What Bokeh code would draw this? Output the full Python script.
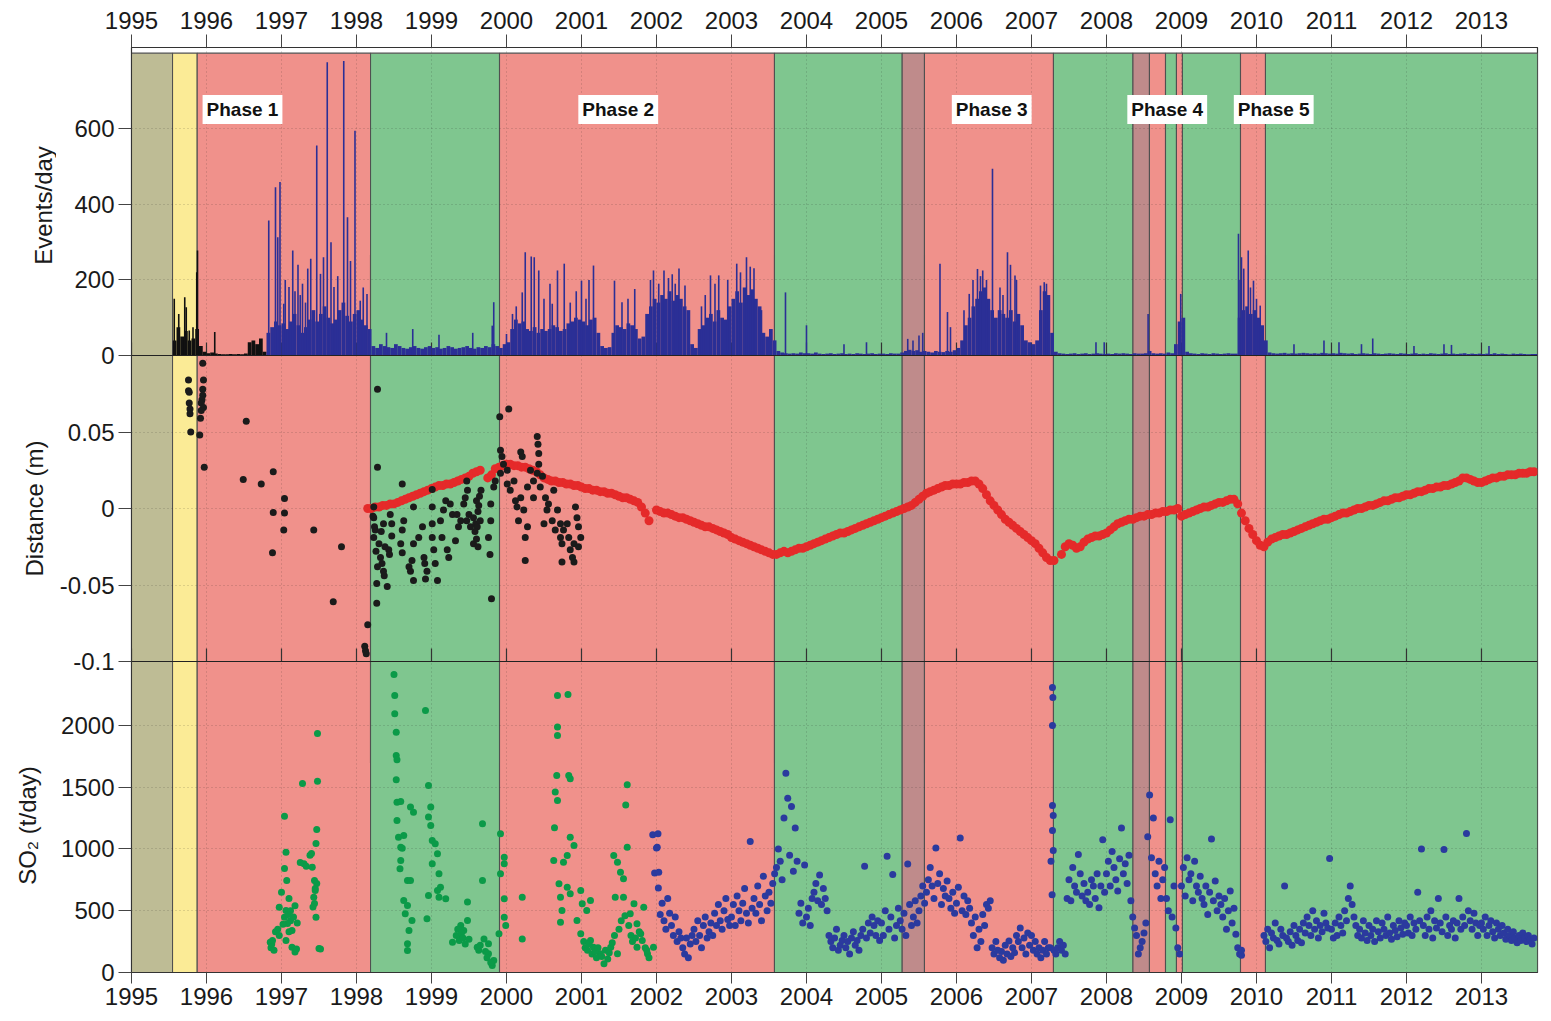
import numpy as np
from math import pi
from bokeh.plotting import figure
from bokeh.layouts import row
from bokeh.models import Range1d, LinearAxis, FixedTicker, Label, Span
from bokeh.core.properties import value
from bokeh.embed import file_html
from bokeh.resources import INLINE

nan = float("nan")

# ---------------- data ----------------
tick_years = list(range(1995, 2014))

phase_start = [1995.000, 1995.547, 1995.876, 1998.187, 1999.907, 2003.573, 2005.276, 2005.573,
               2007.293, 2008.353, 2008.573, 2008.787, 2008.933, 2009.013, 2009.787, 2010.120]
phase_end = [1995.547, 1995.876, 1998.187, 1999.907, 2003.573, 2005.276, 2005.573, 2007.293,
             2008.353, 2008.573, 2008.787, 2008.933, 2009.013, 2009.787, 2010.120, 2013.747]
phase_kind = ["pre", "unrest", "active", "pause", "active", "pause", "transition", "active",
              "pause", "transition", "active", "pause", "active", "pause", "active", "pause"]

phase_names = ["Phase 1", "Phase 2", "Phase 3", "Phase 4", "Phase 5"]
phase_label_year = [1996.48, 2001.49, 2006.47, 2008.81, 2010.23]
phase_label_level = 651

panel_titles = ["Events/day", "Distance (m)", "SO\u2082 (t/day)"]

# seismic events per day (0.05-year bins starting 1995.55) and isolated spikes
events_start = 1995.55
events_step = 0.05
events_body = [
    40, 75, 50, 65, 40, 45, 70, 25, 10,
    6, 8, 5, 4, 3, 3, 4, 3, 4, 3, 5, 35, 40, 30, 45, 10, 60, 75, 90, 80,
    85, 70, 90, 110, 80, 60, 75, 95, 120, 90, 110, 130, 100, 85, 95, 120, 140, 105, 90, 110,
    120, 95, 80, 70, 25, 20, 30, 25, 22, 20, 30, 25, 20, 18, 22, 25, 20, 18, 22, 25,
    20, 22, 18, 20, 25, 22, 18, 20, 22, 25, 20, 18, 22, 20, 25, 22, 30, 25, 20, 30,
    35, 70, 95, 85, 90, 70, 65, 75, 60, 70, 65, 70, 80, 75, 65, 70, 85, 90, 100, 95,
    90, 80, 95, 100, 60, 25, 20, 22, 60, 80, 75, 70, 85, 80, 70, 45, 50, 110, 130, 150,
    140, 160, 150, 170, 145, 160, 150, 130, 120, 30, 20, 70, 80, 100, 110, 90, 120, 100, 95, 130,
    150, 170, 140, 180, 160, 175, 150, 130, 60, 50, 70, 40, 12, 8, 6, 5, 6, 5, 8, 6,
    6, 5, 8, 5, 4, 5, 6, 4, 5, 6, 4, 5, 4, 6, 5, 4, 5, 6, 4, 5,
    5, 4, 6, 5, 5, 8, 12, 15, 12, 14, 10, 12, 10, 8, 12, 10, 9, 12, 10, 14,
    20, 40, 80, 100, 130, 150, 170, 180, 150, 120, 100, 120, 110, 100, 120, 90, 110, 80, 40, 35,
    30, 40, 120, 170, 160, 60, 10, 6, 5, 4, 5, 6, 4, 5, 6, 4, 5, 6, 5, 4,
    5, 4, 6, 5, 6, 5, 4, 6, 5, 5, 6, 12, 6, 5, 6, 5, 8, 6, 30, 90,
    100, 10, 6, 5, 4, 6, 5, 4, 6, 5, 4, 5, 6, 5, 5, 100, 120, 130, 110, 120,
    100, 80, 40, 8, 6, 5, 6, 7, 5, 6, 5, 6, 7, 6, 5, 6, 5, 7, 6, 5,
    6, 5, 7, 6, 5, 6, 4, 5, 6, 5, 4, 6, 5, 4, 5, 6, 5, 4, 6, 5,
    4, 5, 6, 4, 5, 4, 6, 5, 4, 5, 6, 4, 5, 4, 5, 6, 4, 5, 4, 5,
    4, 5, 4, 6, 4, 5, 4, 3, 5, 4, 5, 4, 3, 4, 4,
]
events_black_until = 1996.79
events_spikes = [
    (1995.57, 150), (1995.63, 110), (1995.71, 154), (1995.73, 128), (1995.77, 66), (1995.82, 75),
    (1995.87, 220), (1995.88, 278), (1996.11, 62),
    (1996.83, 357), (1996.92, 445), (1996.95, 313), (1996.98, 459), (1997.03, 137), (1997.05, 200),
    (1997.10, 181), (1997.15, 278), (1997.18, 170), (1997.22, 240), (1997.25, 160), (1997.28, 190),
    (1997.32, 140), (1997.35, 230), (1997.39, 256), (1997.47, 556), (1997.52, 216), (1997.56, 260),
    (1997.61, 776), (1997.66, 300), (1997.70, 181), (1997.75, 210), (1997.83, 779), (1997.88, 366),
    (1997.92, 250), (1997.98, 595), (1998.05, 145), (1998.09, 180), (1998.14, 163),
    (1998.40, 60), (1998.75, 70), (1999.10, 55), (1999.55, 60), (1999.81, 79), (1999.83, 141), (2000.00, 57),
    (2000.08, 110), (2000.13, 130), (2000.21, 167), (2000.25, 273), (2000.33, 262), (2000.37, 260),
    (2000.43, 225), (2000.50, 150), (2000.58, 190), (2000.61, 137), (2000.68, 225), (2000.77, 243),
    (2000.85, 140), (2000.93, 170), (2001.00, 198), (2001.06, 150), (2001.10, 200), (2001.16, 238),
    (2001.44, 198), (2001.54, 141), (2001.62, 150), (2001.71, 176), (2001.92, 200), (2001.96, 225),
    (2002.03, 190), (2002.10, 225), (2002.16, 205), (2002.21, 215), (2002.25, 190), (2002.30, 230),
    (2002.38, 185), (2002.60, 130), (2002.65, 160), (2002.72, 212), (2002.78, 190), (2002.83, 212),
    (2002.95, 200), (2003.07, 243), (2003.12, 220), (2003.20, 260), (2003.25, 235), (2003.30, 231),
    (2003.40, 120), (2003.72, 167), (2004.00, 80), (2004.50, 30), (2004.80, 35),
    (2005.35, 44), (2005.42, 40), (2005.50, 53), (2005.55, 60), (2005.78, 243), (2005.88, 115),
    (2005.92, 75), (2006.10, 120), (2006.17, 163), (2006.22, 200), (2006.28, 229), (2006.32, 210),
    (2006.35, 225), (2006.40, 200), (2006.48, 494), (2006.58, 180), (2006.62, 160), (2006.68, 273),
    (2006.72, 240), (2006.78, 212), (2006.80, 200), (2007.12, 185), (2007.17, 194), (2007.20, 190),
    (2007.86, 35), (2007.97, 35), (2008.555, 110), (2008.99, 163),
    (2009.76, 322), (2009.78, 200), (2009.80, 260), (2009.83, 230), (2009.89, 278), (2009.92, 180),
    (2009.96, 198), (2010.00, 150), (2010.05, 132),
    (2010.50, 30), (2010.90, 40), (2011.10, 35), (2011.40, 30), (2011.55, 45), (2012.10, 25),
    (2012.50, 30), (2012.60, 28), (2013.10, 25),
]

# distance (m): continuous series (0.05-year steps from 1998.15) and early survey points
dist_red_start = 1998.15
dist_red_step = 0.05
dist_red = [
    0.000, 0.000, 0.001, 0.001, 0.002, 0.002, 0.003, 0.003, 0.004, 0.005, 0.006, 0.007, 0.008, 0.009, 0.010, 0.011, 0.012,
    0.013, 0.014, 0.015, 0.015, 0.016, 0.016, 0.017, 0.018, 0.019, 0.020, 0.021, 0.023, 0.024, 0.025, nan, 0.020, 0.022, 0.026, 0.027, 0.028,
    0.029, 0.029, 0.028, 0.028, 0.027, 0.027, 0.026, 0.025, 0.024, 0.022, 0.020, 0.019, 0.018, 0.018, 0.017, 0.017, 0.016, 0.016, 0.015, 0.015,
    0.014, 0.013, 0.013, 0.012, 0.012, 0.011, 0.011, 0.010, 0.010, 0.009, 0.008, 0.007, 0.007, 0.006, 0.005, 0.004, 0.001, -0.003, -0.008, nan,
    -0.001, -0.002, -0.003, -0.003, -0.004, -0.005, -0.006, -0.006, -0.007, -0.008, -0.009, -0.010, -0.011, -0.012, -0.012, -0.013, -0.014, -0.015, -0.016, -0.017,
    -0.019, -0.020, -0.021, -0.022, -0.023, -0.024, -0.025, -0.026, -0.027, -0.028, -0.029, -0.030, -0.030, -0.029, -0.028, -0.029, -0.028, -0.027, -0.026, -0.026,
    -0.025, -0.024, -0.023, -0.022, -0.021, -0.020, -0.019, -0.018, -0.017, -0.016, -0.016, -0.015, -0.014, -0.013, -0.012, -0.011, -0.010, -0.009, -0.008, -0.007,
    -0.006, -0.005, -0.004, -0.003, -0.002, -0.001, 0.000, 0.001, 0.002, 0.004, 0.006, 0.008, 0.010, 0.011, 0.012, 0.013, 0.014, 0.015, 0.015, 0.016,
    0.016, 0.016, 0.017, 0.017, 0.018, 0.018, 0.016, 0.013, 0.009, 0.005, 0.002, -0.001, -0.004, -0.007, -0.009, -0.011, -0.013, -0.015, -0.017, -0.019,
    -0.021, -0.023, -0.026, -0.029, -0.032, -0.034, -0.034, nan, -0.030, -0.025, -0.023, -0.024, -0.026, -0.025, -0.022, -0.020, -0.019, -0.018, -0.018, -0.017,
    -0.016, -0.014, -0.012, -0.010, -0.009, -0.008, -0.007, -0.007, -0.006, -0.005, -0.005, -0.004, -0.004, -0.003, -0.003, -0.002, -0.002, -0.001, -0.001, 0.000,
    -0.005, -0.004, -0.003, -0.002, -0.001, 0.000, 0.001, 0.001, 0.002, 0.003, 0.004, 0.004, 0.005, 0.006, 0.006, 0.003, -0.003, -0.008, -0.013, -0.017,
    -0.021, -0.024, -0.025, -0.022, -0.020, -0.019, -0.018, -0.017, -0.017, -0.016, -0.015, -0.014, -0.013, -0.012, -0.011, -0.010, -0.009, -0.008, -0.007, -0.007,
    -0.006, -0.005, -0.004, -0.003, -0.003, -0.002, -0.001, 0.000, 0.000, 0.001, 0.002, 0.002, 0.003, 0.004, 0.005, 0.005, 0.006, 0.007, 0.007, 0.008,
    0.009, 0.009, 0.010, 0.011, 0.011, 0.012, 0.013, 0.013, 0.014, 0.014, 0.015, 0.015, 0.016, 0.017, 0.018, 0.020, 0.020, 0.019, 0.018, 0.017,
    0.017, 0.018, 0.019, 0.020, 0.020, 0.021, 0.021, 0.022, 0.022, 0.022, 0.023, 0.023, 0.023, 0.024, 0.024,
]
dist_black = [
    (1995.76, 0.084), (1995.76, 0.077), (1995.77, 0.076), (1995.77, 0.069), (1995.78, 0.065), (1995.78, 0.062), (1995.79, 0.050),
    (1995.95, 0.095), (1995.96, 0.084), (1995.95, 0.078), (1995.95, 0.074), (1995.94, 0.071), (1995.93, 0.069), (1995.96, 0.066),
    (1995.93, 0.064), (1995.92, 0.059), (1995.91, 0.048), (1995.97, 0.027),
    (1996.53, 0.057), (1996.49, 0.019), (1996.73, 0.016), (1996.89, 0.024), (1997.04, 0.0065), (1996.89, -0.0026),
    (1997.04, -0.003), (1997.03, -0.014), (1997.43, -0.014), (1996.88, -0.029), (1997.80, -0.025), (1997.69, -0.061),
    (1998.15, -0.076), (1998.11, -0.090), (1998.12, -0.093), (1998.13, -0.095),
    (1998.28, 0.078), (1998.28, 0.027), (1998.27, -0.062), (1999.91, 0.060), (2000.03, 0.065), (1999.80, -0.059),
    (1998.23, 0.001), (1998.23, -0.006), (1998.25, -0.014), (1998.23, -0.019), (1998.30, -0.023), (1998.32, -0.032),
    (1998.34, -0.036), (1998.36, -0.041), (1998.37, -0.044), (1998.27, -0.049), (1998.41, -0.051), (1998.36, -0.010),
    (1998.45, -0.004), (1998.47, -0.010), (1998.43, -0.027), (1998.22, -0.005), (1998.24, -0.012), (1998.26, -0.028),
    (1998.28, -0.038), (1998.33, -0.015), (1998.38, -0.025), (1998.44, -0.030), (1998.47, -0.018),
    (1998.61, 0.016), (1998.63, -0.008), (1998.61, -0.014), (1998.59, -0.023), (1998.61, -0.029), (1998.74, -0.034),
    (1998.72, -0.041), (1998.76, -0.047), (1998.70, -0.038), (1998.76, 0.001), (1998.76, -0.023), (1998.83, -0.019),
    (1998.88, -0.012), (1998.90, -0.032), (1998.91, -0.036), (1998.92, -0.046), (1998.94, -0.041),
    (1999.01, 0.001), (1999.01, -0.010), (1999.01, -0.019), (1999.03, -0.027), (1999.05, -0.036), (1999.08, -0.047),
    (1999.01, 0.0125), (1999.14, -0.019), (1999.12, -0.008), (1999.16, -0.001), (1999.19, 0.005), (1999.21, -0.027),
    (1999.23, -0.032), (1999.25, 0.003), (1999.28, -0.004), (1999.34, -0.004), (1999.36, -0.012), (1999.32, -0.021),
    (1999.39, -0.008), (1999.43, 0.003), (1999.45, 0.007), (1999.47, 0.018), (1999.48, 0.012), (1999.50, -0.004),
    (1999.47, -0.008), (1999.52, -0.012), (1999.56, -0.006), (1999.59, -0.010), (1999.61, -0.012), (1999.56, -0.023),
    (1999.63, 0.002), (1999.60, 0.005), (1999.62, -0.002), (1999.64, 0.008), (1999.66, 0.012), (1999.58, -0.015),
    (1999.60, -0.020), (1999.65, -0.008), (1999.62, -0.025),
    (1999.79, 0.003), (1999.79, -0.008), (1999.76, -0.019), (1999.78, -0.030), (1999.83, 0.014), (1999.85, 0.018),
    (1999.92, 0.038), (1999.94, 0.034), (1999.96, 0.029), (1999.92, 0.023), (2000.01, 0.025), (2000.01, 0.016),
    (2000.05, 0.012), (2000.10, 0.018), (2000.12, 0.005), (2000.14, 0.001), (2000.19, 0.007), (2000.19, 0.037),
    (2000.21, 0.034), (2000.16, -0.008), (2000.23, -0.001), (2000.28, -0.012), (2000.25, -0.019), (2000.25, -0.034),
    (2000.28, 0.014), (2000.32, 0.025), (2000.36, 0.018), (2000.36, 0.007), (2000.41, 0.047), (2000.42, 0.042),
    (2000.43, 0.036), (2000.43, 0.029), (2000.41, 0.023), (2000.45, 0.014), (2000.48, 0.021), (2000.52, 0.007),
    (2000.54, -0.001), (2000.50, -0.010), (2000.56, 0.003), (2000.61, -0.008), (2000.65, -0.014), (2000.63, 0.012),
    (2000.68, -0.001), (2000.72, -0.010), (2000.72, -0.019), (2000.74, -0.023), (2000.76, -0.014), (2000.81, -0.010),
    (2000.83, -0.019), (2000.85, -0.027), (2000.88, -0.032), (2000.90, -0.023), (2000.92, 0.001), (2000.94, -0.006),
    (2000.96, -0.012), (2000.99, -0.019), (2000.96, -0.025), (2000.90, -0.035), (2000.74, -0.035),
]

# SO2 flux (t/day): early survey points (green) and daily series (blue, 0.025-year steps from 2001.95)
so2_green = [
    (1996.85, 245), (1996.86, 200), (1996.87, 230), (1996.88, 260), (1996.90, 180), (1996.92, 330), (1996.95, 350),
    (1996.97, 300), (1997.04, 1266), (1997.06, 974), (1997.04, 842), (1997.07, 745), (1997.00, 650), (1997.10, 599),
    (1996.97, 529), (1997.06, 502), (1997.04, 448), (1997.12, 420), (1997.08, 397), (1997.02, 390), (1997.14, 340),
    (1997.10, 330), (1997.06, 259), (1997.14, 205), (1997.18, 165), (1997.20, 190), (1997.21, 400), (1997.16, 450),
    (1997.09, 470), (1997.12, 500), (1997.18, 540), (1997.28, 1530), (1997.25, 890), (1997.30, 880), (1997.33, 860),
    (1997.38, 950), (1997.40, 963), (1997.41, 853), (1997.48, 1935), (1997.48, 1549), (1997.47, 1158), (1997.46, 1044),
    (1997.44, 745), (1997.45, 664), (1997.43, 610), (1997.44, 559), (1997.46, 448), (1997.42, 530), (1997.47, 720),
    (1997.45, 680), (1997.50, 194), (1997.52, 190),
    (1998.50, 2413), (1998.51, 2243), (1998.51, 2095), (1998.53, 1946), (1998.53, 1757), (1998.54, 1722), (1998.53, 1560),
    (1998.54, 1379), (1998.59, 1385), (1998.54, 1231), (1998.56, 1096), (1998.59, 1015), (1998.61, 1005), (1998.63, 1110),
    (1998.59, 907), (1998.58, 840), (1998.68, 745), (1998.72, 745), (1998.63, 583), (1998.68, 543), (1998.65, 475),
    (1998.74, 421), (1998.70, 340), (1998.68, 232), (1998.68, 178), (1998.72, 1339), (1998.76, 1298),
    (1998.92, 2121), (1998.96, 1514), (1998.99, 1339), (1998.96, 1258), (1998.99, 1190), (1999.01, 1069), (1999.05, 1042),
    (1999.08, 961), (1999.01, 880), (1999.10, 799), (1999.12, 691), (1999.08, 664), (1998.96, 624), (1998.94, 435),
    (1999.10, 610), (1999.19, 597), (1999.48, 570), (1999.39, 380), (1999.43, 340), (1999.28, 245), (1999.39, 286),
    (1999.48, 421), (1999.61, 205), (1999.68, 1204), (1999.68, 745), (1999.70, 272), (1999.76, 232), (1999.76, 151),
    (1999.81, 57), (1999.83, 97), (1999.90, 313), (1999.92, 1123), (1999.97, 934), (1999.97, 880), (1999.92, 799),
    (1999.97, 597), (1999.99, 380), (1999.97, 448), (2000.21, 610), (2000.21, 272),
    (1999.33, 300), (1999.35, 350), (1999.37, 260), (1999.40, 320), (1999.42, 280), (1999.45, 230), (1999.50, 270),
    (1999.63, 180), (1999.65, 220), (1999.72, 170), (1999.74, 120), (1999.79, 80),
    (2000.68, 2243), (2000.82, 2251), (2000.68, 1987), (2000.68, 1919), (2000.67, 1596), (2000.83, 1596), (2000.85, 1569),
    (2000.65, 1461), (2000.68, 1393), (2000.64, 1172), (2000.85, 1096), (2000.90, 1029), (2000.63, 907), (2000.76, 893),
    (2000.81, 947), (2000.70, 718), (2000.81, 691), (2000.72, 610), (2000.85, 637), (2000.74, 502), (2000.72, 407),
    (2000.99, 664), (2001.01, 556), (2001.07, 502), (2001.12, 583), (2000.94, 421), (2000.99, 313), (2001.12, 259),
    (2001.16, 205), (2001.25, 151), (2001.30, 70), (2001.39, 205), (2001.48, 151), (2001.43, 947), (2001.48, 893),
    (2001.52, 812), (2001.56, 759), (2001.45, 610), (2001.56, 610), (2001.61, 1520), (2001.59, 1357), (2001.61, 1015),
    (2001.70, 556), (2001.65, 475), (2001.74, 394), (2001.79, 313), (2001.83, 529), (2001.88, 151), (2001.96, 205),
    (2001.74, 205), (2001.03, 250), (2001.05, 200), (2001.08, 180), (2001.10, 230), (2001.14, 150), (2001.18, 170),
    (2001.20, 120), (2001.22, 200), (2001.27, 130), (2001.32, 180), (2001.35, 110), (2001.37, 160), (2001.41, 240),
    (2001.44, 300), (2001.50, 350), (2001.53, 420), (2001.58, 460), (2001.63, 380), (2001.66, 300), (2001.68, 250),
    (2001.72, 280), (2001.77, 330), (2001.81, 260), (2001.85, 200), (2001.87, 180), (2001.90, 120),
]
so2_blue_start = 2001.95
so2_blue_step = 0.025
so2_blue = [
    1115, 806,
    1008, 685, 470, 560, 420, 350, 600, 480, 380, 300, 450, 250, 330, 280, 200, 150, 280, 120, 230, 300,
    350, 250, 420, 300, 200, 380, 450, 280, 330, 400, 300, 480, 380, 550, 420, 350, 500, 600, 430, 380,
    450, 550, 380, 620, 500, 420, 560, 680, 480, 400, 1060, 520, 600, 480, 700, 550, 420, 780, 620, 500,
    650, 560, 720, 800, 850, 1000, 900, 750, 1250, 1613, 1411, 950, 1344, 820, 1170, 900, 480, 560, 400, 870,
    450, 520, 380, 600, 650, 720, 580, 790, 550, 680, 600, 500, 300, 250, 200, 280, 350, 180, 220, 260,
    300, 200, 250, 150, 280, 330, 220, 260, 180, 300, 350, 860, 280, 400, 320, 450, 380, 300, 420, 260,
    400, 300, 500, 941, 350, 450, 793, 280, 380, 520, 420, 350, 480, 300, 879, 550, 380, 450, 580, 400,
    500, 620, 700, 560, 650, 750, 850, 700, 600, 1008, 720, 800, 550, 680, 620, 740, 600, 520, 650, 480,
    560, 690, 1089, 500, 620, 470, 580, 520, 400, 300, 450, 200, 350, 250, 470, 380, 550, 520, 580, 200,
    150, 250, 180, 120, 170, 100, 220, 150, 255, 130, 200, 160, 300, 250, 360, 200, 280, 150, 320, 220,
    300, 180, 250, 150, 200, 120, 180, 250, 150, 200, 200, 630, 180, 150, 200, 250, 180, 220, 150, 600,
    750, 580, 850, 700, 650, 955, 800, 620, 720, 580, 650, 550, 750, 700, 600, 800, 525, 700, 1075, 650,
    800, 900, 700, 980, 850, 750, 660, 920, 1170, 800, 880, 720, 950, 580, 450, 360, 300, 150, 200, 250,
    320, 400, 1100, 1438, 930, 1250, 800, 700, 900, 600, 750, 850, 600, 500, 1237, 450, 700, 360, 200, 150,
    700, 850, 620, 930, 750, 800, 580, 900, 700, 650, 780, 600, 550, 700, 470, 650, 1080, 580, 740, 500,
    620, 550, 450, 600, 350, 500, 660, 400, 520, 310, 200, 150, 140, nan, nan, nan, nan, nan, nan, nan,
    nan, nan, nan, nan, 300, 250, 350, 200, 320, 280, 400, 260, 230, 350, 300, 700, 280, 250, 330, 220,
    380, 300, 260, 350, 240, 400, 320, 450, 380, 300, 500, 350, 420, 280, 380, 330, 480, 400, 360, 923,
    350, 280, 400, 300, 450, 380, 320, 500, 420, 600, 700, 550, 450, 380, 300, 350, 280, 420, 320, 260,
    380, 300, 350, 250, 420, 330, 280, 400, 350, 300, 450, 320, 270, 380, 340, 290, 420, 360, 310, 400,
    380, 320, 450, 300, 400, 350, 650, 420, 1000, 380, 300, 450, 350, 500, 280, 420, 360, 600, 400, 330,
    996, 450, 300, 380, 350, 420, 280, 400, 600, 350, 450, 380, 1125, 500, 420, 350, 480, 400, 300, 380,
    400, 350, 450, 300, 380, 420, 330, 280, 400, 350, 300, 380, 320, 270, 350, 300, 260, 330, 280, 240,
    300, 260, 320, 280, 250, 300, 270, 230, 280,
]
so2_blue_extra = [
    (2007.28, 2308), (2007.285, 2227), (2007.28, 2000), (2007.28, 1352), (2007.29, 1271), (2007.28, 1150),
    (2007.29, 988), (2007.26, 900), (2002.02, 1123), (2002.01, 1015), (2002.03, 812), (2009.80, 180),
]

# panel value ranges and tick values
ev_lo, ev_hi = 0, 815
ev_box_top = 800
ev_ticks = [0, 200, 400, 600]
dist_lo, dist_hi = -0.1, 0.1
dist_ticks = [-0.1, -0.05, 0, 0.05]
dist_tick_text = ["-0.1", "-0.05", "0", "0.05"]
so2_lo, so2_hi = 0, 2518
so2_ticks = [0, 500, 1000, 1500, 2000]

# ---------------- styling / layout ----------------
FONT = "Liberation Sans"
phase_color = {"pre": "#BEBC95", "unrest": "#FBEB96", "active": "#F0918B",
               "pause": "#7FC68F", "transition": "#BF8B8B"}
EV_BLUE = "#2B2F96"
DOT_BLUE = "#2B3A9E"
GREEN = "#0B9A48"
RED = "#E52A2A"

H = 925                      # frame height in px
px_so2 = (0, 311)            # bottom panel
px_dist = (311, 617)         # middle panel
px_ev = (617, 925)           # top panel
TITLE_W = 56                 # width of the strip holding the rotated panel titles
LEFT = 131 - TITLE_W
TOP, BOTTOM = 47, 46


def stretched(lo, hi, px):
    u = (hi - lo) / (px[1] - px[0])
    return Range1d(lo - px[0] * u, hi + (H - px[1]) * u), u


r_ev, u_ev = stretched(ev_lo, ev_hi, px_ev)
r_dist, u_dist = stretched(dist_lo, dist_hi, px_dist)
r_so2, u_so2 = stretched(so2_lo, so2_hi, px_so2)

p = figure(frame_width=1406, frame_height=H,
           x_range=Range1d(1995.0, 2013.747), y_range=Range1d(0, H),
           min_border_left=LEFT, min_border_right=10, min_border_top=TOP, min_border_bottom=BOTTOM,
           toolbar_location=None, output_backend="svg", x_axis_location="below")
p.extra_y_ranges = {"ev": r_ev, "dist": r_dist, "so2": r_so2}
p.background_fill_color = "white"
p.border_fill_color = "white"
p.outline_line_color = "#333333"
p.outline_line_width = 1.2

# ---- phase background spans in each panel
span_colors = [phase_color[k] for k in phase_kind]
for rname, lo, hi in (("ev", ev_lo, ev_box_top), ("dist", dist_lo, dist_hi), ("so2", so2_lo, so2_hi)):
    p.quad(left=phase_start, right=phase_end, bottom=lo, top=hi, fill_color=span_colors,
           line_color="#505050", line_width=1.1, y_range_name=rname, level="image")


# ---- axes
def style_axis(ax, ticks, size="24px", tick_out=13, tick_in=0, standoff=6):
    ax.ticker = FixedTicker(ticks=ticks)
    ax.major_tick_out = tick_out
    ax.major_tick_in = tick_in
    ax.minor_tick_line_color = None
    ax.major_tick_line_color = "#444444"
    ax.axis_line_color = "#333333"
    ax.major_label_text_font = FONT
    ax.major_label_text_font_size = size
    ax.major_label_text_color = "#1a1a1a"
    ax.major_label_standoff = standoff


xb = p.xaxis[0]
style_axis(xb, tick_years, tick_out=11, standoff=4)
xa = LinearAxis()
style_axis(xa, tick_years, tick_out=13, standoff=6)
p.add_layout(xa, "above")

ytick_pos, ytick_txt = [], []
for v in so2_ticks:
    ytick_pos.append(round(px_so2[0] + (v - so2_lo) / u_so2, 4)); ytick_txt.append(str(v))
for v, t in zip(dist_ticks, dist_tick_text):
    ytick_pos.append(round(px_dist[0] + (v - dist_lo) / u_dist, 4)); ytick_txt.append(t)
for v in ev_ticks:
    ytick_pos.append(round(px_ev[0] + (v - ev_lo) / u_ev, 4)); ytick_txt.append(str(v))
ya = p.yaxis[0]
style_axis(ya, ytick_pos, tick_out=13, standoff=4)
ya.major_label_overrides = dict(zip(ytick_pos, ytick_txt))

# grids
grid_pos = [round(px_so2[0] + (v - so2_lo) / u_so2, 4) for v in so2_ticks[1:]]
grid_pos += [round(px_dist[0] + (v - dist_lo) / u_dist, 4) for v in dist_ticks[1:]]
grid_pos += [round(px_ev[0] + (v - ev_lo) / u_ev, 4) for v in ev_ticks[1:]]
p.xgrid[0].ticker = FixedTicker(ticks=tick_years[1:])
p.ygrid[0].ticker = FixedTicker(ticks=grid_pos)
for g in (p.xgrid[0], p.ygrid[0]):
    g.grid_line_color = "#202020"
    g.grid_line_alpha = 0.28
    g.grid_line_dash = "1 3"
    g.grid_line_width = 1

# panel separators and inward ticks
p.add_layout(Span(location=0, dimension="width", y_range_name="ev", line_color="#222222", line_width=1.2))
p.add_layout(Span(location=dist_lo, dimension="width", y_range_name="dist", line_color="#222222", line_width=1.2))
n = len(tick_years)
p.segment(x0=tick_years, y0=[dist_lo] * n, x1=tick_years, y1=[dist_lo + 13 * u_dist] * n,
          line_color="#333333", line_width=1.2, y_range_name="dist")
p.segment(x0=tick_years, y0=[0] * n, x1=tick_years, y1=[13 * u_ev] * n,
          line_color="#333333", line_width=1.2, y_range_name="ev")

# ---- events panel
ev_x = np.array([events_start + events_step * (i + 0.5) for i in range(len(events_body))])
ev_col = np.where(ev_x < events_black_until, "#111111", EV_BLUE)
p.vbar(x=ev_x, width=events_step, top=events_body, bottom=0, fill_color=ev_col,
       line_color=None, y_range_name="ev")
sp_x = [s[0] for s in events_spikes]
sp_y = [s[1] for s in events_spikes]
sp_col = ["#111111" if x < events_black_until else EV_BLUE for x in sp_x]
p.segment(x0=sp_x, y0=[0] * len(sp_x), x1=sp_x, y1=sp_y, line_color=sp_col, line_width=1.6,
          y_range_name="ev")

for name, yr in zip(phase_names, phase_label_year):
    p.add_layout(Label(x=yr, y=phase_label_level, y_range_name="ev", text=name,
                       text_font=FONT, text_font_size="19px", text_font_style="bold",
                       text_color="#111111", text_align="center", text_baseline="middle",
                       background_fill_color="white", padding=4))

# ---- distance panel
dr_x = np.array([dist_red_start + dist_red_step * i for i in range(len(dist_red))])
p.scatter(dr_x, np.array(dist_red, dtype=float), size=9, color=RED, line_color=None,
          y_range_name="dist")
p.scatter([d[0] for d in dist_black], [d[1] for d in dist_black], size=7, color="#1b1b1b",
          line_color=None, y_range_name="dist")

# ---- SO2 panel
p.scatter([d[0] for d in so2_green], [d[1] for d in so2_green], size=7, color=GREEN,
          line_color=None, y_range_name="so2")
sb_x = np.array([so2_blue_start + so2_blue_step * i for i in range(len(so2_blue))])
p.scatter(sb_x, np.array(so2_blue, dtype=float), size=7, color=DOT_BLUE, line_color=None,
          y_range_name="so2")
p.scatter([d[0] for d in so2_blue_extra], [d[1] for d in so2_blue_extra], size=7,
          color=DOT_BLUE, line_color=None, y_range_name="so2")

# ---- strip with the rotated panel titles (same vertical frame as the chart)
t = figure(frame_width=TITLE_W, frame_height=H, x_range=Range1d(0, TITLE_W), y_range=Range1d(0, H),
           min_border_left=0, min_border_right=0, min_border_top=TOP, min_border_bottom=BOTTOM,
           toolbar_location=None, output_backend="svg",
           x_axis_location=None, y_axis_location=None)
t.grid.visible = False
t.outline_line_color = None
t.background_fill_color = "white"
t.border_fill_color = "white"
title_x = [42.5, 34, 27]
title_y = [(px_ev[0] + px_ev[1]) / 2 - 4, (px_dist[0] + px_dist[1]) / 2, 147]
t.text(x=title_x, y=title_y, text=panel_titles, angle=pi / 2, text_font=value(FONT),
       text_font_size="24px", text_color="#1a1a1a", text_align="center", text_baseline="middle")

layout = row(t, p, spacing=0)
open("out.html", "w").write(file_html(layout, INLINE))
